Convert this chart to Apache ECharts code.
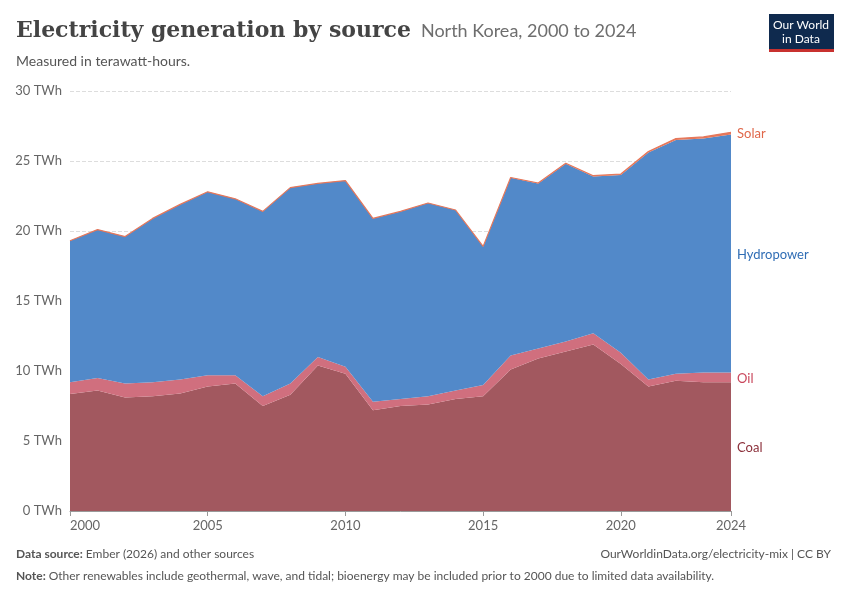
<!DOCTYPE html>
<html><head><meta charset="utf-8">
<script src="https://cdn.jsdelivr.net/npm/echarts@6/dist/echarts.min.js"></script>
<style>body{margin:0;background:#fff;font-family:Lato,sans-serif}#c{width:850px;height:600px}</style>
</head><body><div id="c"></div>
<script>
const years=[2000,2001,2002,2003,2004,2005,2006,2007,2008,2009,2010,2011,2012,2013,2014,2015,2016,2017,2018,2019,2020,2021,2022,2023,2024];
const coal=[8.36,8.6,8.1,8.2,8.4,8.9,9.1,7.5,8.3,10.4,9.8,7.2,7.5,7.6,8.0,8.2,10.1,10.9,11.4,11.9,10.5,8.9,9.3,9.2,9.2];
const oil=[0.84,0.9,1.0,1.0,1.0,0.8,0.6,0.7,0.8,0.6,0.5,0.6,0.5,0.6,0.6,0.8,1.0,0.7,0.7,0.8,0.8,0.5,0.5,0.7,0.7];
const hydro=[10.1,10.6,10.5,11.7,12.5,13.1,12.6,13.2,14.0,12.4,13.3,13.1,13.4,13.8,12.9,9.9,12.7,11.8,12.7,11.2,12.7,16.2,16.7,16.7,17.0];
const solar=[0,0,0,0,0,0,0,0,0,0,0,0,0,0,0,0,0.02,0.03,0.04,0.05,0.07,0.08,0.1,0.12,0.15];
const xTicks=[2000,2005,2010,2015,2020,2024];
const names=['Coal','Oil','Hydropower','Solar'];
const colors=['#a2585f','#d06f7e','#5289c9','#e6775a'];
const labelColors=['#8b2f3a','#c9475c','#2f6db5','#e0674a'];
const vals=[coal,oil,hydro,solar];
const chart=echarts.init(document.getElementById('c'));
const baseGraphic=[
    {type:'text',left:16,top:20,style:{rich:{t:{font:'bold 22px "DejaVu Serif"',fill:'#444'},s:{font:'18px Lato',fill:'#6e6e6e',padding:[0,0,0,10]}},text:'{t|Electricity generation by source}{s|North Korea, 2000 to 2024}'}},
    {type:'text',left:16,top:54,style:{text:'Measured in terawatt-hours.',font:'14px Lato',fill:'#555'}},
    {type:'rect',shape:{x:769,y:14,width:65,height:38},style:{fill:'#0f2a4e'}},
    {type:'rect',shape:{x:769,y:49,width:65,height:3},style:{fill:'#c8312f'}},
    {type:'text',x:801,y:32,style:{text:'Our World\nin Data',fill:'#fff',font:'12px Lato',align:'center',verticalAlign:'middle',lineHeight:14}},
    {type:'text',left:16,top:548,style:{rich:{b:{font:'bold 12px Lato',fill:'#555'},n:{font:'12px Lato',fill:'#555'}},text:'{b|Data source: }{n|Ember (2026) and other sources}'}},
    {type:'text',right:19,top:548,style:{text:'OurWorldinData.org/electricity-mix | CC BY',font:'12px Lato',fill:'#555'}},
    {type:'text',left:16,top:570,style:{rich:{b:{font:'bold 12px Lato',fill:'#555'},n:{font:'12px Lato',fill:'#555'}},text:'{b|Note: }{n|Other renewables include geothermal, wave, and tidal; bioenergy may be included prior to 2000 due to limited data availability.}'}}
];
chart.setOption({
  animation:false,
  grid:{left:70,right:119,top:91,bottom:89},
  xAxis:{type:'category',boundaryGap:false,data:years.map(String),axisLine:{lineStyle:{color:'#999'}},
    axisTick:{interval:(i,v)=>xTicks.includes(+v),lineStyle:{color:'#999'}},splitLine:{show:false},
    axisLabel:{interval:(i,v)=>xTicks.includes(+v),color:'#666',fontSize:13,fontFamily:'Lato',alignMinLabel:'left'}},
  yAxis:{type:'value',min:0,max:30,interval:5,axisLabel:{formatter:v=>v+' TWh',color:'#666',fontSize:13,fontFamily:'Lato'},
    splitLine:{lineStyle:{type:'dashed',color:'#ddd'}}},
  series:vals.map((v,i)=>({name:names[i],type:'line',stack:'t',symbol:'none',lineStyle:{width:i==3?1.2:0,color:colors[i]},
    areaStyle:{color:colors[i],opacity:1},data:v}))
});
const last=years.length-1;let cum=0;const g=[];
const extra=[1,2,1,2];
vals.forEach((v,i)=>{const mid=i==3?cum+v[last]:cum+v[last]/2;cum+=v[last];
  const p=chart.convertToPixel({gridIndex:0},[last,mid]);
  g.push({type:'text',x:p[0]+6,y:p[1]+extra[i],style:{text:names[i],fill:labelColors[i],font:'13px Lato',verticalAlign:'middle'}});});
chart.setOption({graphic:baseGraphic.concat(g)});
</script></body></html>
